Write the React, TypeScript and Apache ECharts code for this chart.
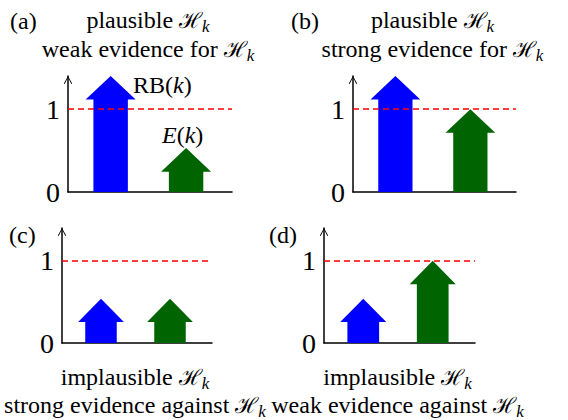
import React, { useEffect, useRef } from 'react';
import * as echarts from 'echarts';

// ---- data ----
const panelLabels = ['(a)', '(b)', '(c)', '(d)'];
const rbValues = [1.4, 1.4, 0.54, 0.54];
const eValues = [0.53, 1.0, 0.54, 1.0];
const arrowX = [0.26, 0.72];
const titleLine1 = ['plausible', 'plausible', 'implausible', 'implausible'];
const titleLine2 = ['weak evidence for', 'strong evidence for', 'strong evidence against', 'weak evidence against'];
const yTickValues = [0, 1];
const threshold = 1;
const yMax = 1.4;

// ---- layout / style ----
const grids = [
  { left: 68, top: 76, width: 164, height: 116 },
  { left: 353, top: 76, width: 163, height: 116 },
  { left: 62, top: 228, width: 150, height: 115 },
  { left: 324, top: 228, width: 151, height: 115 },
];
const colors = ['#0000ff', '#006400'];
const SERIF = 'Liberation Serif';
const SHAFT_W = 0.21;
const HEAD_W = 0.305;
const HEAD_H = 0.285;

const chevron = 'path://M0,9 L5,0 L10,9 L9,9.6 L5,1.8 L1,9.6 Z';

const richStyles = {
  t: { fontFamily: SERIF, fontSize: 24, lineHeight: 30, fill: '#000' },
  h: { fontFamily: 'DejaVu Serif', fontSize: 22, lineHeight: 30, fill: '#000' },
  s: { fontFamily: SERIF, fontSize: 17, fontStyle: 'italic', lineHeight: 17, verticalAlign: 'bottom', fill: '#000' },
  i: { fontFamily: SERIF, fontSize: 24, fontStyle: 'italic', lineHeight: 30, fill: '#000' },
};

function hk(prefix: string) {
  return `{t|${prefix} }{h|ℋ}{s|k}`;
}

function textStyle(text: string, extra: any = {}) {
  return { text, rich: richStyles, fontFamily: SERIF, fontSize: 24, fill: '#000', verticalAlign: 'middle', ...extra };
}

export default function App() {
  const ref = useRef<HTMLDivElement>(null);
  useEffect(() => {
    document.body.style.margin = '0';
    const chart = echarts.init(ref.current!, null, { renderer: 'svg' });

    const xAxis = grids.map((_, i) => ({
      type: 'value', gridIndex: i, min: 0, max: 1,
      axisLine: { show: true, lineStyle: { color: '#000', width: 1.5 } },
      axisTick: { show: false }, axisLabel: { show: false }, splitLine: { show: false },
    }));
    const yAxis = grids.map((_, i) => ({
      type: 'value', gridIndex: i, min: 0, max: yMax, interval: 1,
      axisLine: {
        show: true, lineStyle: { color: '#000', width: 1.5 },
        symbol: ['none', chevron], symbolSize: [10, 8], symbolOffset: [0, -4],
      },
      axisTick: { show: false },
      splitLine: { show: false },
      axisLabel: {
        customValues: yTickValues,
        formatter: (v: number) => (yTickValues.includes(v) ? String(v) : ''),
        fontFamily: SERIF, fontSize: 28, color: '#000', margin: 8,
      },
    }));

    const series: any[] = [];
    grids.forEach((_, gi) => {
      const vals = [rbValues[gi], eValues[gi]];
      series.push({
        type: 'custom',
        xAxisIndex: gi, yAxisIndex: gi,
        clip: false,
        z: 2,
        data: vals.map((v, k) => [arrowX[k], v, k]),
        renderItem: (params: any, api: any) => {
          const x = api.value(0);
          const v = api.value(1);
          const k = api.value(2);
          const base = api.coord([x, 0]);
          const tip = api.coord([x, v]);
          const hb = api.coord([x, v - HEAD_H]);
          const sh = api.size([SHAFT_W, 0])[0] / 2;
          const hh = api.size([HEAD_W, 0])[0] / 2;
          const cx = base[0];
          return {
            type: 'polygon',
            shape: {
              points: [
                [cx - sh, base[1]], [cx - sh, hb[1]], [cx - hh, hb[1]], [cx, tip[1]],
                [cx + hh, hb[1]], [cx + sh, hb[1]], [cx + sh, base[1]],
              ],
            },
            style: { fill: colors[k] },
          };
        },
        markLine: {
          silent: true, symbol: 'none', z: 5,
          label: { show: false },
          lineStyle: { color: '#ff0000', type: [6, 4], width: 1.5 },
          data: [{ yAxis: threshold }],
        },
      });
    });

    const graphic: any[] = [];
    const labelPos = [[10, 21], [291, 21], [9, 235], [269, 235]];
    grids.forEach((g, i) => {
      graphic.push({
        type: 'text', x: labelPos[i][0], y: labelPos[i][1],
        style: textStyle(panelLabels[i]),
      });
      const cx = g.left + g.width / 2 - 2;
      const top = i < 2;
      const y1 = top ? 20 : 377;
      const y2 = top ? 49 : 405;
      graphic.push({ type: 'text', x: cx, y: y1, style: textStyle(hk(titleLine1[i]), { align: 'center' }) });
      graphic.push({ type: 'text', x: cx, y: y2, style: textStyle(hk(titleLine2[i]), { align: 'center' }) });
    });
    graphic.push({ type: 'text', x: 133, y: 85, style: textStyle('{t|RB(}{i|k}{t|)}') });
    graphic.push({ type: 'text', x: 162, y: 135, style: textStyle('{i|E}{t|(}{i|k}{t|)}') });

    chart.setOption({
      animation: false,
      backgroundColor: '#fff',
      grid: grids.map((g) => ({ ...g, containLabel: false })),
      xAxis, yAxis, series, graphic,
    });
    return () => chart.dispose();
  }, []);
  return <div ref={ref} style={{ width: 568, height: 420 }} />;
}
